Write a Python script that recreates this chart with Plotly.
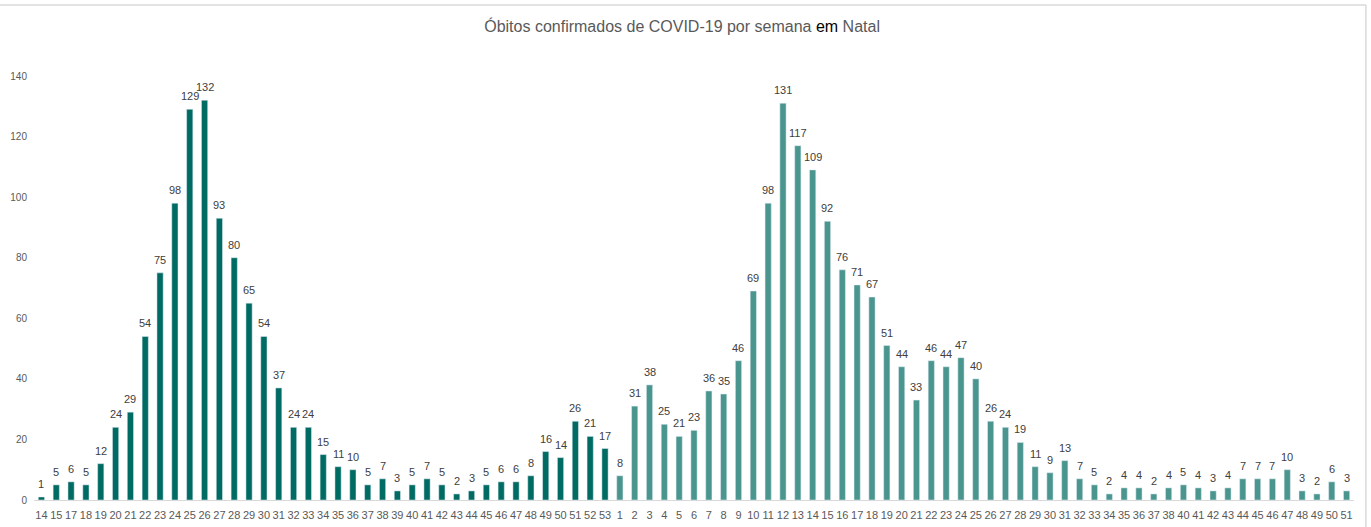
import plotly.graph_objects as go

weeks_2020 = ["14", "15", "17", "18", "19", "20", "21", "22", "23", "24", "25", "26", "27", "28",
              "29", "30", "31", "32", "33", "34", "35", "36", "37", "38", "39", "40", "41", "42",
              "43", "44", "45", "46", "47", "48", "49", "50", "51", "52", "53"]
deaths_2020 = [1, 5, 6, 5, 12, 24, 29, 54, 75, 98, 129, 132, 93, 80,
               65, 54, 37, 24, 24, 15, 11, 10, 5, 7, 3, 5, 7, 5,
               2, 3, 5, 6, 6, 8, 16, 14, 26, 21, 17]

weeks_2021 = ["1", "2", "3", "4", "5", "6", "7", "8", "9", "10", "11", "12", "13", "14", "15",
              "16", "17", "18", "19", "20", "21", "22", "23", "24", "25", "26", "27", "28", "29",
              "30", "31", "32", "33", "34", "35", "36", "37", "38", "40", "41", "42", "43", "44",
              "45", "46", "47", "48", "49", "50", "51"]
deaths_2021 = [8, 31, 38, 25, 21, 23, 36, 35, 46, 69, 98, 131, 117, 109, 92,
               76, 71, 67, 51, 44, 33, 46, 44, 47, 40, 26, 24, 19, 11,
               9, 13, 7, 5, 2, 4, 4, 2, 4, 5, 4, 3, 4, 7,
               7, 7, 10, 3, 2, 6, 3]

y_ticks = [0, 20, 40, 60, 80, 100, 120, 140]

x2020 = list(range(len(weeks_2020)))
x2021 = list(range(len(weeks_2020), len(weeks_2020) + len(weeks_2021)))

font_family = "Liberation Sans, Arial, sans-serif"
label_color = "#404040"

fig = go.Figure()
fig.add_trace(go.Bar(x=x2020, y=deaths_2020, marker_color="#006B63", width=0.42, name="2020"))
fig.add_trace(go.Bar(x=x2021, y=deaths_2021, marker_color="#4A968F", width=0.42, name="2021"))

annotations = []
for xs, ys in ((x2020, deaths_2020), (x2021, deaths_2021)):
    for xv, yv in zip(xs, ys):
        annotations.append(dict(
            x=xv, y=yv, xref="x", yref="y", text=str(yv), showarrow=False,
            yanchor="middle", xanchor="center", yshift=13,
            font=dict(size=11, color=label_color, family=font_family),
        ))

fig.update_layout(
    width=1371, height=527,
    margin=dict(l=34, r=17, t=76, b=27, autoexpand=False),
    paper_bgcolor="white", plot_bgcolor="white",
    showlegend=False,
    title=dict(
        text="Óbitos confirmados de COVID-19 por semana <span style='color:#000000'>em</span> Natal",
        x=0.4975, xanchor="center", y=0.95, yanchor="middle",
        font=dict(size=16, color="#595959", family=font_family),
    ),
    xaxis=dict(
        range=[-0.5, len(x2020) + len(x2021) - 0.5],
        tickvals=x2020 + x2021, ticktext=weeks_2020 + weeks_2021,
        tickangle=0, automargin=False,
        showgrid=False, zeroline=False,
        showline=True, linecolor="#D9D9D9", linewidth=1,
        ticks="", tickfont=dict(size=11, color="#595959", family=font_family),
        ticklabelstandoff=5,
    ),
    yaxis=dict(
        range=[0, 140], tickvals=y_ticks, automargin=False,
        showgrid=False, zeroline=False, showline=False,
        ticks="", tickfont=dict(size=10, color="#595959", family=font_family),
        ticklabelstandoff=6,
    ),
    annotations=annotations,
    shapes=[
        dict(type="line", xref="paper", yref="paper", x0=-0.03, x1=1.009, y0=1.1675, y1=1.1675,
             line=dict(color="#D9D9D9", width=1.5)),
        dict(type="line", xref="paper", yref="paper", x0=1.009, x1=1.009, y0=1.1675, y1=-0.07,
             line=dict(color="#D9D9D9", width=1.5)),
    ],
)

fig.write_html("out.html", config={"displayModeBar": False},
               post_script="document.body.style.margin='0';")
